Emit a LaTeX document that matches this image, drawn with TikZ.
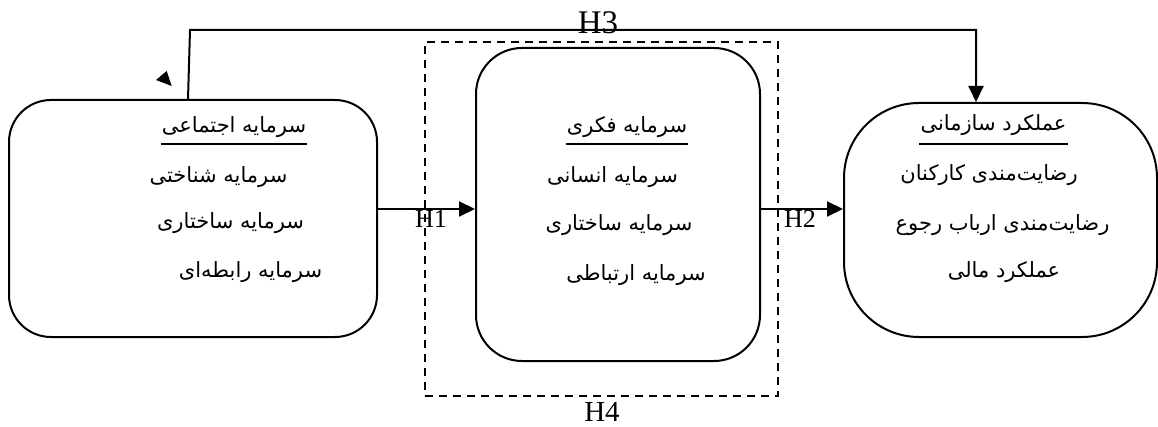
\documentclass[tikz,border=0pt]{standalone}
\usepackage{fontspec}
\setmainfont{Liberation Serif}
\newfontfamily\fa[Script=Arabic]{DejaVu Sans}
\TeXXeTstate=1
\usetikzlibrary{arrows.meta}
\tikzset{
  box/.style={draw, line width=2pt, inner sep=0pt},
  fatext/.style={font=\fa\fontsize{21}{24}\selectfont, inner sep=1pt},
  hlab/.style={inner sep=0pt},
  arr/.style={line width=2pt, -{Triangle[length=16pt,width=15pt]}},
}
\begin{document}
\begin{tikzpicture}[x=1pt,y=-1pt]
\useasboundingbox (0,0) rectangle (1158,427);
% boxes
\node[box, rounded corners=42pt, minimum width=368pt, minimum height=237pt] (soc) at (193,218.5) {};
\node[box, rounded corners=46pt, minimum width=284pt, minimum height=313pt] (ic) at (618,204.5) {};
\node[box, rounded corners=75pt, minimum width=313pt, minimum height=234pt] (perf) at (1000.5,220) {};
\node[draw, line width=2.6pt, dash pattern=on 8pt off 6pt, minimum width=353pt, minimum height=354pt, inner sep=0pt] (h4box) at (601.5,219) {};
% left texts
\node[fatext] (s0) at (234,127) {\beginR سرمایه اجتماعی\endR};
\node[fatext] (s1) at (218.5,177) {\beginR سرمایه شناختی\endR};
\node[fatext] (s2) at (230.5,223) {\beginR سرمایه ساختاری\endR};
\node[fatext] (s3) at (250.5,272) {\beginR سرمایه رابطه‌ای\endR};
% middle texts
\node[fatext] (m0) at (627,127) {\beginR سرمایه فکری\endR};
\node[fatext] (m1) at (612.5,177) {\beginR سرمایه انسانی\endR};
\node[fatext] (m2) at (619,225) {\beginR سرمایه ساختاری\endR};
\node[fatext] (m3) at (636,275) {\beginR سرمایه ارتباطی\endR};
% right texts
\node[fatext] (r0) at (993.5,125) {\beginR عملکرد سازمانی\endR};
\node[fatext] (r1) at (989,175) {\beginR رضایت‌مندی کارکنان\endR};
\node[fatext] (r2) at (1002.5,225) {\beginR رضایت‌مندی ارباب رجوع\endR};
\node[fatext] (r3) at (1004,272) {\beginR عملکرد مالی\endR};
% underlines
\coordinate (ul) at (0,144);
\draw[line width=1.2pt] (s0.west |- ul) -- (s0.east |- ul);
\draw[line width=1.2pt] (m0.west |- ul) -- (m0.east |- ul);
\draw[line width=1.2pt] (r0.west |- ul) -- (r0.east |- ul);
% labels
\node[hlab, font=\fontsize{33}{36}\selectfont] (H3) at (598,23) {H3};
\node[hlab, font=\fontsize{29}{32}\selectfont] (H4) at (602,412) {H4};
\node[hlab, font=\fontsize{26}{29}\selectfont] (H1) at (431,219) {H1};
\node[hlab, font=\fontsize{26}{29}\selectfont] (H2) at (800,219) {H2};
% connectors
\coordinate (h1) at (0,209);
\draw[arr] (soc.east |- h1) -- (ic.west |- h1);
\draw[arr] (ic.east |- h1) -- (perf.west |- h1);
\coordinate (h3s) at (188,0);
\coordinate (h3a) at (190,30);
\coordinate (h3b) at (976,30);
\draw[arr] (soc.north -| h3s) -- (h3a) -- (h3b) -- (perf.north -| h3b);
% stray arrowhead
\fill (156,80) -- (166.7,71) -- (171.7,86) -- cycle;
\end{tikzpicture}
\end{document}
